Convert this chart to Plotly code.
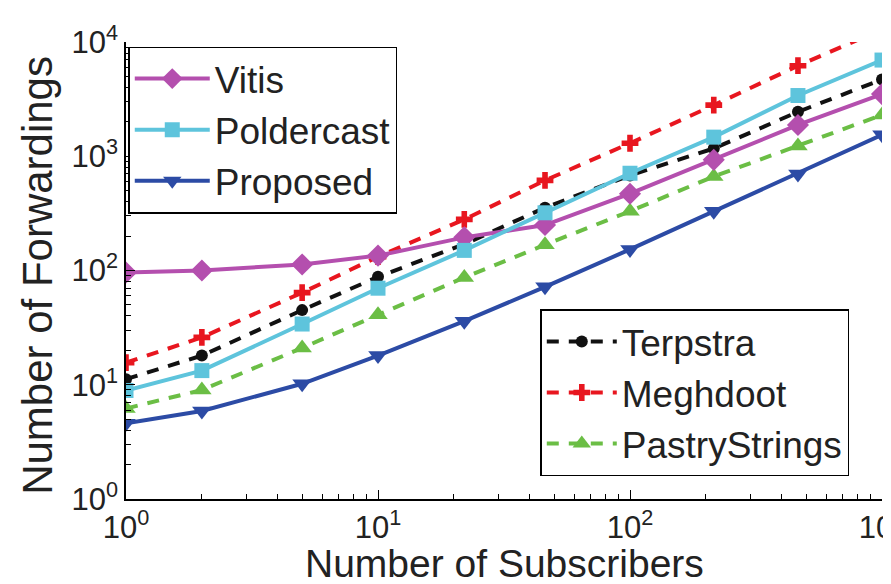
import plotly.graph_objects as go

subscribers = [1, 2, 5, 10, 22, 46, 100, 215, 464, 1000]

terpstra = [11.2, 18, 45, 88, 170, 355, 680, 1170, 2450, 4700]
meghdoot = [15.6, 26, 64, 132, 280, 615, 1300, 2800, 6200, 12900]
pastrystrings = [6.2, 9.0, 21, 41, 87, 168, 330, 665, 1230, 2300]
vitis = [96, 100, 113, 135, 195, 250, 470, 930, 1880, 3500]
poldercast = [8.9, 13.3, 34, 70, 150, 320, 710, 1470, 3400, 6950]
proposed = [4.6, 5.9, 10.2, 18, 36, 72, 153, 330, 700, 1540]

major_vals = [1, 10, 100, 1000, 10000]
major_text = ["10<sup>0</sup>", "10<sup>1</sup>", "10<sup>2</sup>", "10<sup>3</sup>", "10<sup>4</sup>"]
minor_vals = [m * 10 ** e for e in range(0, 4) for m in range(2, 10)]

FONT = "Arial, Liberation Sans, Helvetica, sans-serif"

fig = go.Figure()

def add(name, y, color, symbol, msize, dash, legend):
    fig.add_trace(go.Scatter(
        x=subscribers, y=y, name=name, mode="lines+markers",
        line=dict(color=color, width=4, dash=dash),
        marker=dict(symbol=symbol, size=msize, color=color, line=dict(width=0)),
        legend=legend,
    ))

add("Terpstra", terpstra, "#111111", "circle", 12, "12px,10px", "legend2")
add("Meghdoot", meghdoot, "#E8161F", "cross", 14, "12px,10px", "legend2")
add("PastryStrings", pastrystrings, "#6BBE45", "triangle-up", 17, "12px,10px", "legend2")
add("Vitis", vitis, "#B44FAE", "diamond", 17, "solid", "legend")
add("Poldercast", poldercast, "#5EC4DC", "square", 15, "solid", "legend")
add("Proposed", proposed, "#2C4BA5", "triangle-down", 17, "solid", "legend")

axis_common = dict(
    type="log", showgrid=False, zeroline=False,
    showline=True, linecolor="black", linewidth=1.5, mirror=False,
    ticks="inside", ticklen=9, tickwidth=1.2, tickcolor="black",
    tickfont=dict(family=FONT, size=31, color="#222222"),
    ticklabeloverflow="allow",
    minor=dict(ticks="inside", ticklen=5, tickwidth=1, tickcolor="black",
               tickmode="array", tickvals=minor_vals, showgrid=False),
    tickmode="array", automargin=False,
)

fig.update_layout(
    width=891, height=584,
    margin=dict(l=118, r=17, t=34, b=93),
    plot_bgcolor="white", paper_bgcolor="white",
    font=dict(family=FONT, color="#222222"),
    xaxis=dict(axis_common, range=[0, 3], tickvals=major_vals[:4], ticktext=major_text[:4]),
    yaxis=dict(axis_common, range=[0, 4], tickvals=major_vals, ticktext=major_text),
    legend=dict(x=0.003, y=0.99, xanchor="left", yanchor="top",
                bgcolor="white", bordercolor="black", borderwidth=1.5,
                font=dict(family=FONT, size=37, color="#222222"),
                tracegroupgap=0, itemwidth=75, traceorder="normal"),
    legend2=dict(x=0.548, y=0.415, xanchor="left", yanchor="top",
                 bgcolor="white", bordercolor="black", borderwidth=1.5,
                 font=dict(family=FONT, size=37, color="#222222"),
                 tracegroupgap=0, itemwidth=70, traceorder="normal"),
    showlegend=True,
    annotations=[
        dict(text="Number of Subscribers", xref="paper", yref="paper",
             x=0.5, y=-0.142, xanchor="center", yanchor="middle", showarrow=False,
             font=dict(family=FONT, size=39, color="#222222")),
        dict(text="Number of Forwardings", xref="paper", yref="paper", textangle=-90,
             x=-0.118, y=0.49, xanchor="center", yanchor="middle", showarrow=False,
             font=dict(family=FONT, size=42, color="#222222")),
    ],
)

fig.write_html("out.html")
